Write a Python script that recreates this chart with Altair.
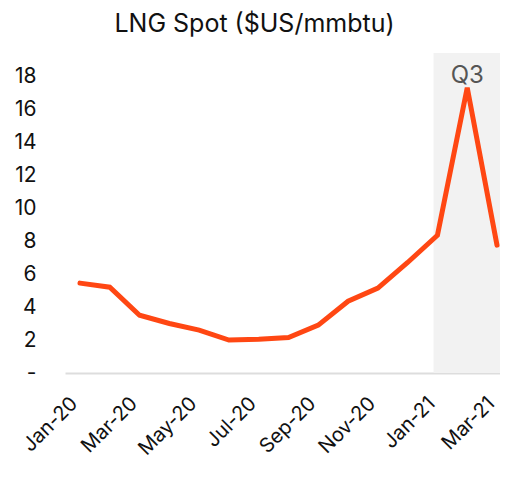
import altair as alt
import pandas as pd

months = ["Jan-20", "Feb-20", "Mar-20", "Apr-20", "May-20", "Jun-20", "Jul-20",
          "Aug-20", "Sep-20", "Oct-20", "Nov-20", "Dec-20", "Jan-21", "Feb-21", "Mar-21"]
prices = [5.45, 5.2, 3.5, 3.0, 2.6, 2.0, 2.05, 2.15, 2.9, 4.35, 5.15, 6.7, 8.35, 17.3, 7.75]
shade_start = 11.87
shade_end = 14.1
shade_label = "Q3"

df = pd.DataFrame({"i": list(range(len(months))), "month": months, "price": prices})

label_expr = "[" + ",".join(f"'{m}'" for m in months) + "][datum.value]"

FONT = "Inter"

x_scale = alt.Scale(domain=[-0.503, 14.1], nice=False, zero=False)
y_scale = alt.Scale(domain=[0, 19.4], nice=False)

shade = alt.Chart(pd.DataFrame({"a": [shade_start], "b": [shade_end]})).mark_rect(
    color="#F2F2F2").encode(
    x=alt.X("a:Q", scale=x_scale),
    x2="b:Q",
    y=alt.value(0),
    y2=alt.value(320),
)

q3 = alt.Chart(pd.DataFrame({"x": [13], "t": [shade_label]})).mark_text(
    font=FONT, fontSize=24, color="#555555", baseline="middle", align="center").encode(
    x=alt.X("x:Q", scale=x_scale),
    y=alt.value(23),
    text="t:N",
)

line = alt.Chart(df).mark_line(color="#FF4713", strokeWidth=5, strokeCap="round",
                               strokeJoin="miter").encode(
    x=alt.X("i:Q", scale=x_scale,
            axis=alt.Axis(values=list(range(0, 15, 2)), labelExpr=label_expr,
                          labelAngle=-45, labelAlign="right", labelBaseline="middle",
                          labelFont=FONT, labelFontSize=20, labelColor="#111111",
                          labelOverlap=False, labelBound=False, labelFlush=False,
                          labelOffset=-6,
                          ticks=False, grid=False, domainColor="#DDDDDD",
                          domainWidth=2, labelPadding=27, title=None)),
    y=alt.Y("price:Q", scale=y_scale,
            axis=alt.Axis(values=list(range(0, 19, 2)),
                          labelExpr="datum.value == 0 ? '-' : datum.label",
                          labelFont=FONT, labelFontSize=21, labelColor="#111111",
                          labelOverlap=False,
                          ticks=False, grid=False, domain=False, labelPadding=29,
                          title=None)),
)

chart = alt.layer(shade, line, q3).properties(
    width=435, height=320,
    autosize=alt.AutoSizeParams(type="none"),
    padding={"left": 57, "top": 45, "right": 0, "bottom": 110},
    title=alt.TitleParams("LNG Spot ($US/mmbtu)", font=FONT, fontSize=25,
                          fontWeight="normal", color="#111111", anchor="middle",
                          dx=-28, offset=16),
).configure_view(stroke=None)

chart.save("out.html", embed_options={"renderer": "svg", "actions": False})
